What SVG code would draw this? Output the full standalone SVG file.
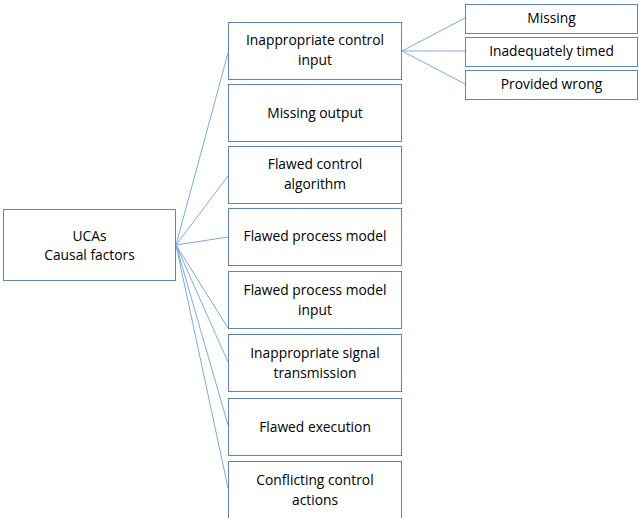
<svg xmlns="http://www.w3.org/2000/svg" width="640" height="518" viewBox="0 0 640 518">
  <style>
    .box { fill: #ffffff; stroke: #5f85b6; stroke-width: 1; }
    .link { fill: none; stroke: #7eaadc; stroke-width: 1; }
    .lbl { font-family: "Open Sans", "Noto Sans", sans-serif; font-size: 13.8px; fill: #000000; text-anchor: middle; }
  </style>
  <rect width="640" height="518" fill="#ffffff"/>

  <!-- connectors -->
  <g id="connectors">
    <line class="link" x1="176" y1="245" x2="228" y2="53"/>
    <line class="link" x1="176" y1="245" x2="228" y2="176"/>
    <line class="link" x1="176" y1="245" x2="228" y2="237"/>
    <line class="link" x1="176" y1="245" x2="228" y2="328"/>
    <line class="link" x1="176" y1="245" x2="228" y2="362"/>
    <line class="link" x1="176" y1="245" x2="228" y2="425"/>
    <line class="link" x1="176" y1="245" x2="228" y2="488"/>
    <line class="link" x1="402" y1="51" x2="465" y2="18"/>
    <line class="link" x1="402" y1="51" x2="465" y2="51"/>
    <line class="link" x1="402" y1="51" x2="465" y2="84"/>
  </g>

  <!-- root -->
  <g id="ucas">
    <rect class="box" x="3.5" y="209.5" width="172" height="71"/>
    <text class="lbl" x="89.5" y="241">UCAs</text>
    <text class="lbl" x="89.5" y="260">Causal factors</text>
  </g>

  <!-- causal factor categories -->
  <g id="inappropriate-control-input">
    <rect class="box" x="228.5" y="22.5" width="173" height="57"/>
    <text class="lbl" x="315" y="45">Inappropriate control</text>
    <text class="lbl" x="315" y="65">input</text>
  </g>
  <g id="missing-output">
    <rect class="box" x="228.5" y="84.5" width="173" height="57"/>
    <text class="lbl" x="315" y="118">Missing output</text>
  </g>
  <g id="flawed-control-algorithm">
    <rect class="box" x="228.5" y="146.5" width="173" height="57"/>
    <text class="lbl" x="315" y="169">Flawed control</text>
    <text class="lbl" x="315" y="189">algorithm</text>
  </g>
  <g id="flawed-process-model">
    <rect class="box" x="228.5" y="208.5" width="173" height="57"/>
    <text class="lbl" x="315" y="241">Flawed process model</text>
  </g>
  <g id="flawed-process-model-input">
    <rect class="box" x="228.5" y="271.5" width="173" height="57"/>
    <text class="lbl" x="315" y="295">Flawed process model</text>
    <text class="lbl" x="315" y="315">input</text>
  </g>
  <g id="inappropriate-signal-transmission">
    <rect class="box" x="228.5" y="334.5" width="173" height="57"/>
    <text class="lbl" x="315" y="358">Inappropriate signal</text>
    <text class="lbl" x="315" y="378">transmission</text>
  </g>
  <g id="flawed-execution">
    <rect class="box" x="228.5" y="398.5" width="173" height="57"/>
    <text class="lbl" x="315" y="432">Flawed execution</text>
  </g>
  <g id="conflicting-control-actions">
    <rect class="box" x="228.5" y="461.5" width="173" height="60"/>
    <text class="lbl" x="315" y="485">Conflicting control</text>
    <text class="lbl" x="315" y="505">actions</text>
  </g>

  <!-- control input sub-types -->
  <g id="missing">
    <rect class="box" x="465.5" y="4.5" width="172" height="29"/>
    <text class="lbl" x="551.5" y="23">Missing</text>
  </g>
  <g id="inadequately-timed">
    <rect class="box" x="465.5" y="37.5" width="172" height="29"/>
    <text class="lbl" x="551.5" y="56">Inadequately timed</text>
  </g>
  <g id="provided-wrong">
    <rect class="box" x="465.5" y="70.5" width="172" height="29"/>
    <text class="lbl" x="551.5" y="89">Provided wrong</text>
  </g>
</svg>
